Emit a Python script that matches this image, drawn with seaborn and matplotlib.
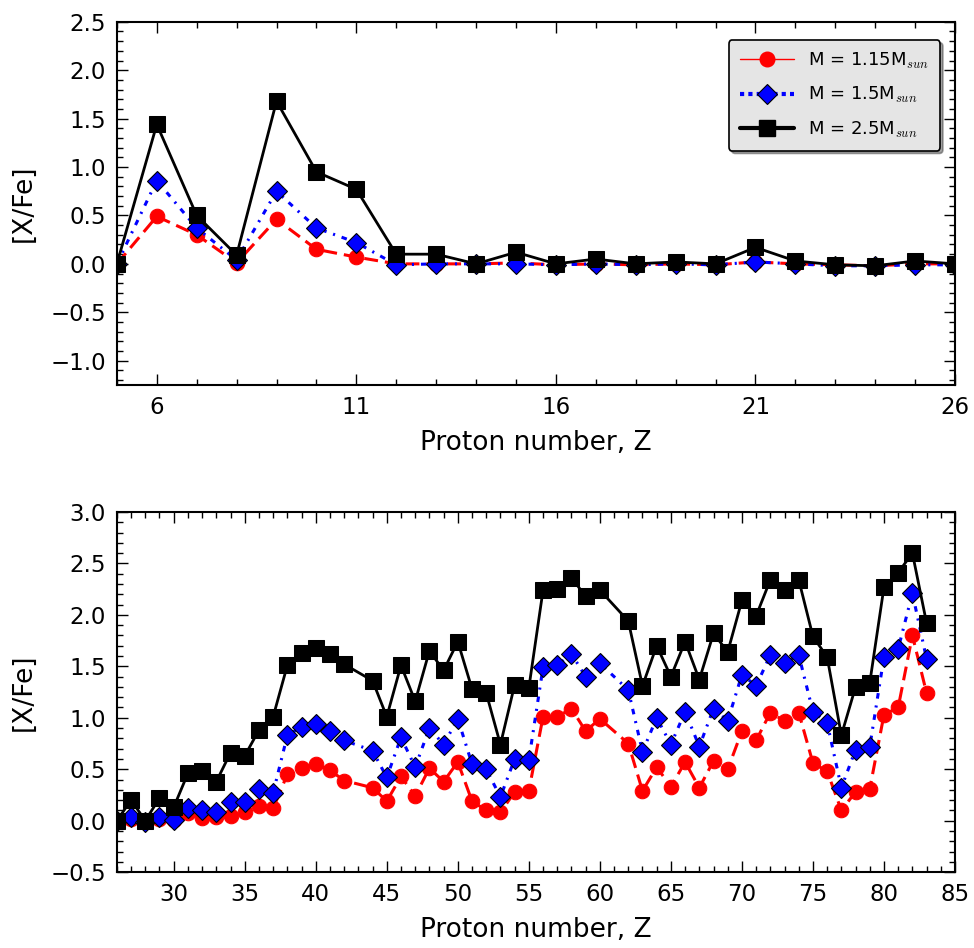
import numpy as np
import matplotlib
matplotlib.use("Agg")
import matplotlib.pyplot as plt
import seaborn as sns
from matplotlib.lines import Line2D
from matplotlib.ticker import MultipleLocator

# light elements, Z = 5..26
z_light = list(range(5, 27))
light_115 = [0.0, 0.49, 0.30, 0.01, 0.46, 0.15, 0.07, 0.0, 0.0, 0.0, 0.01,
             -0.01, 0.0, -0.01, 0.0, -0.01, 0.02, 0.0, -0.01, -0.02, 0.0, 0.0]
light_15 = [0.0, 0.86, 0.37, 0.04, 0.75, 0.37, 0.22, -0.01, 0.0, 0.0, 0.0,
            -0.01, 0.0, -0.01, 0.0, -0.01, 0.02, 0.0, -0.02, -0.02, -0.01, -0.01]
light_25 = [0.0, 1.44, 0.50, 0.09, 1.68, 0.95, 0.77, 0.10, 0.10, 0.0, 0.12,
            0.0, 0.05, 0.0, 0.02, 0.0, 0.17, 0.03, -0.01, -0.02, 0.03, 0.0]

# heavy elements, Z = 26..83 (no Tc, no Pm)
z_heavy = [z for z in range(26, 84) if z not in (43, 61)]
heavy_115 = [0.0, 0.02, 0.0, 0.02, 0.01, 0.07, 0.03, 0.04, 0.05, 0.08, 0.14,
             0.12, 0.45, 0.51, 0.55, 0.49, 0.39, 0.32, 0.19, 0.43, 0.24, 0.51,
             0.38, 0.57, 0.19, 0.10, 0.08, 0.28, 0.29, 1.01, 1.01, 1.09, 0.87,
             0.99, 0.75, 0.29, 0.52, 0.33, 0.57, 0.32, 0.58, 0.50, 0.87, 0.78,
             1.05, 0.97, 1.05, 0.56, 0.48, 0.10, 0.28, 0.31, 1.03, 1.10, 1.80,
             1.24]
heavy_15 = [0.0, 0.04, -0.01, 0.04, 0.01, 0.12, 0.10, 0.08, 0.18, 0.18, 0.31,
            0.27, 0.83, 0.91, 0.94, 0.87, 0.78, 0.68, 0.42, 0.81, 0.52, 0.90,
            0.74, 0.99, 0.55, 0.50, 0.23, 0.60, 0.59, 1.49, 1.51, 1.62, 1.40,
            1.53, 1.27, 0.67, 1.00, 0.74, 1.06, 0.72, 1.09, 0.97, 1.42, 1.31,
            1.61, 1.53, 1.61, 1.06, 0.95, 0.32, 0.69, 0.72, 1.59, 1.67, 2.21,
            1.57]
heavy_25 = [0.0, 0.20, 0.0, 0.22, 0.13, 0.46, 0.48, 0.38, 0.66, 0.63, 0.88,
            1.01, 1.51, 1.63, 1.68, 1.62, 1.52, 1.36, 1.01, 1.51, 1.16, 1.65,
            1.46, 1.74, 1.28, 1.24, 0.74, 1.32, 1.29, 2.24, 2.25, 2.36, 2.18,
            2.24, 1.94, 1.31, 1.70, 1.40, 1.74, 1.37, 1.82, 1.64, 2.14, 1.99,
            2.34, 2.24, 2.34, 1.79, 1.59, 0.83, 1.30, 1.34, 2.27, 2.41, 2.60,
            1.92]

labels = [r'M = 1.15M$_{sun}$', r'M = 1.5M$_{sun}$', r'M = 2.5M$_{sun}$']

sns.set_style("white")
plt.rcParams['font.family'] = ['DejaVu Sans']
plt.rcParams['mathtext.fontset'] = 'cm'
plt.rcParams['text.color'] = 'black'
plt.rcParams['axes.labelcolor'] = 'black'
plt.rcParams['xtick.color'] = 'black'
plt.rcParams['ytick.color'] = 'black'
plt.rcParams['lines.scale_dashes'] = False

styles = [
    dict(color='red', linestyle=(0, (10, 5)), marker='o', markersize=10.5,
         markeredgecolor='red', linewidth=2.2),
    dict(color='blue', linestyle=(0, (4, 5, 1.5, 5)), marker='D',
         markersize=10, markeredgecolor='black', markeredgewidth=0.8,
         linewidth=2.2),
    dict(color='black', linestyle='-', marker='s', markersize=11,
         markeredgecolor='black', linewidth=2),
]

fig = plt.figure(figsize=(9.74, 9.48), dpi=100)
ax1 = fig.add_axes([0.120, 0.594, 0.8605, 0.383])
ax2 = fig.add_axes([0.120, 0.080, 0.8605, 0.380])

for ys, st in zip([light_115, light_15, light_25], styles):
    sns.lineplot(x=z_light, y=ys, ax=ax1, estimator=None, sort=False, **st)
for ys, st in zip([heavy_115, heavy_15, heavy_25], styles):
    sns.lineplot(x=z_heavy, y=ys, ax=ax2, estimator=None, sort=False, **st)

ax1.set_xlim(5, 26)
ax1.set_ylim(-1.25, 2.5)
ax1.set_xticks([6, 11, 16, 21, 26])
ax1.xaxis.set_minor_locator(MultipleLocator(1))
ax1.yaxis.set_major_locator(MultipleLocator(0.5))
ax1.yaxis.set_minor_locator(MultipleLocator(0.1))

ax2.set_xlim(26, 85)
ax2.set_ylim(-0.5, 3.0)
ax2.set_xticks(range(30, 86, 5))
ax2.xaxis.set_minor_locator(MultipleLocator(1))
ax2.yaxis.set_major_locator(MultipleLocator(0.5))
ax2.yaxis.set_minor_locator(MultipleLocator(0.1))

for ax in (ax1, ax2):
    ax.set_xlabel('Proton number, Z', fontsize=19, labelpad=8)
    ax.set_ylabel('[X/Fe]', fontsize=19, labelpad=10)
    ax.tick_params(which='both', direction='in', top=True, right=True,
                   bottom=True, left=True, labelsize=16.5, pad=8)
    ax.tick_params(which='major', length=8, width=1)
    ax.tick_params(which='minor', length=4, width=1)
    for sp in ax.spines.values():
        sp.set_linewidth(1.5)
        sp.set_color('black')

handles = [
    Line2D([], [], color='red', linestyle='-', linewidth=1, marker='o',
           markersize=10.5, markeredgecolor='red'),
    Line2D([], [], color='blue', linestyle=(0, (3, 3)), linewidth=3,
           marker='D', markersize=10, markeredgecolor='black',
           markeredgewidth=0.8),
    Line2D([], [], color='black', linestyle='-', linewidth=3, marker='s',
           markersize=11),
]
leg = ax1.legend(handles, labels, loc='upper right', fontsize=13,
                 frameon=True, fancybox=True, shadow=True, borderpad=0.6,
                 labelspacing=0.8, handlelength=3.0,
                 bbox_to_anchor=(0.993, 0.975))
leg.get_frame().set_facecolor('#e5e5e5')
leg.get_frame().set_edgecolor('black')
leg.get_frame().set_linewidth(1.2)
leg.get_frame().set_alpha(1)

fig.savefig('out.png', dpi=100)
